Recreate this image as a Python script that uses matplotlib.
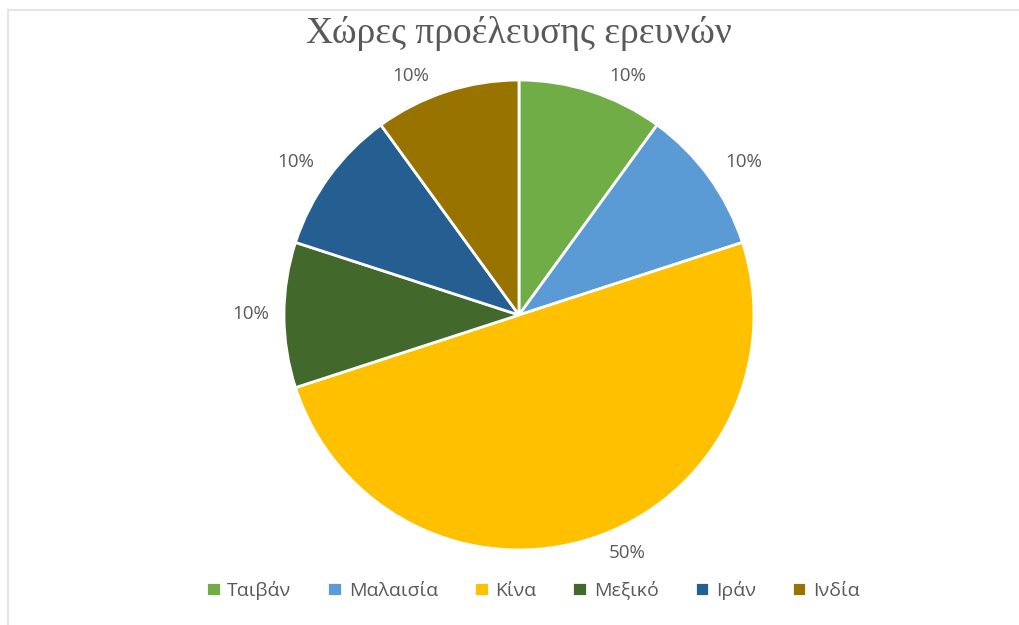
import matplotlib.pyplot as plt
from matplotlib.lines import Line2D

# Δεδομένα
xores = ['Ταιβάν', 'Μαλαισία', 'Κίνα', 'Μεξικό', 'Ιράν', 'Ινδία']
pososta = [10, 10, 50, 10, 10, 10]
xromata = ['#70AD47', '#5B9BD5', '#FFC000', '#43682B', '#255E91', '#997300']

# Θέσεις ετικετών (όπως τις βάζει το Excel, "best fit")
thesi_x = [0.464, 0.957, 0.460, -1.142, -0.949, -0.460]
thesi_y = [1.017, 0.651, -1.013, 0.004, 0.651, 1.017]

fig = plt.figure(figsize=(10.19, 6.25), dpi=100)

# Λεπτό γκρι περίγραμμα πάνω και αριστερά
fig.add_artist(Line2D([7.5 / 1019, 1], [1 - 9.5 / 625] * 2, color='#e4e4e4', lw=1.5))
fig.add_artist(Line2D([7.5 / 1019] * 2, [0, 1 - 9.5 / 625], color='#e4e4e4', lw=1.5))

ax = fig.add_axes([0.2787, 0.12, 0.4612, 0.752])
wedges, texts, autotexts = ax.pie(
    pososta, colors=xromata, startangle=90, counterclock=False,
    autopct='%1.0f%%', pctdistance=1.15,
    wedgeprops={'edgecolor': 'white', 'linewidth': 2},
    textprops={'fontsize': 13.5, 'color': '#595959', 'family': 'Open Sans'},
)
for t, x, y in zip(autotexts, thesi_x, thesi_y):
    t.set_position((x, y))
ax.set_xlim(-1, 1)
ax.set_ylim(-1, 1)
ax.set_aspect('equal')

fig.text(0.5095, 0.947, 'Χώρες προέλευσης ερευνών', ha='center', va='center',
         fontsize=27, color='#595959', family='Liberation Serif')

fig.legend(wedges, xores, loc='center', bbox_to_anchor=(0.523, 0.056), ncol=6,
           frameon=False, handlelength=0.75, handleheight=0.75, handletextpad=0.35,
           columnspacing=1.85, prop={'family': 'Open Sans', 'size': 14},
           labelcolor='#595959')

fig.savefig('out.png', dpi=100)
